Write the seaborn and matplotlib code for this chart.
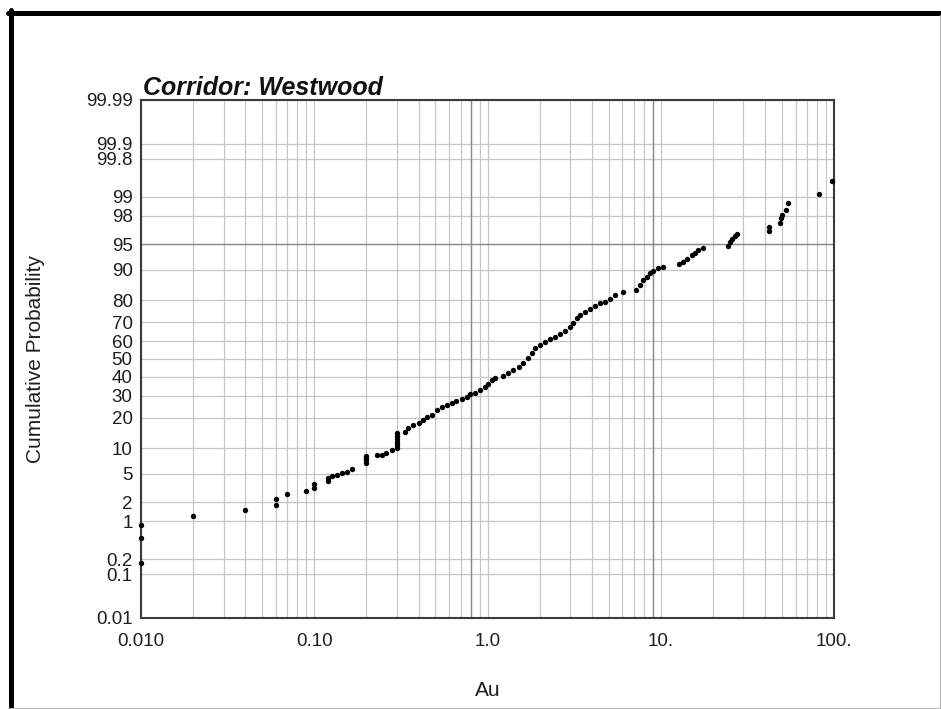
import math

import numpy as np
import pandas as pd
import matplotlib
matplotlib.use("Agg")
import matplotlib.pyplot as plt
import seaborn as sns
from matplotlib.lines import Line2D
from matplotlib.ticker import FixedLocator, NullLocator, LogLocator, NullFormatter

# Au assay values (ppm) and their cumulative probability (%)
au = [
    0.01, 0.01, 0.01, 0.02, 0.04, 0.06, 0.06, 0.07, 0.09, 0.10, 0.10,
    0.12, 0.12, 0.127, 0.135, 0.145, 0.155, 0.165,
    0.2, 0.2, 0.2, 0.2, 0.23, 0.245, 0.26, 0.28,
    0.3, 0.3, 0.3, 0.3, 0.3, 0.3,
    0.334, 0.349, 0.373, 0.40, 0.426, 0.446, 0.476, 0.51, 0.544, 0.58,
    0.62, 0.66, 0.71, 0.76, 0.79, 0.85, 0.90, 0.97, 1.01, 1.06, 1.10,
    1.23, 1.32, 1.41, 1.51, 1.61, 1.72, 1.80, 1.88, 2.01, 2.15, 2.30,
    2.45, 2.62, 2.80, 2.99, 3.13, 3.27, 3.42, 3.66, 3.91, 4.17, 4.46,
    4.77, 5.10, 5.44, 6.06, 7.20, 7.59, 7.93, 8.30, 8.67, 9.06, 9.68,
    10.3, 12.7, 13.5, 14.1, 15.1, 15.7, 16.5, 17.6,
    24.5, 25.1, 25.8, 26.8, 27.7, 42.3, 42.3, 49.0, 49.6, 50.1, 52.5,
    54.6, 81.9, 97.9,
]
cum_prob = [
    0.17, 0.51, 0.86, 1.19, 1.51, 1.83, 2.22, 2.61, 2.93, 3.25, 3.61,
    4.05, 4.33, 4.58, 4.79, 5.01, 5.31, 5.79,
    6.77, 7.25, 7.76, 8.18, 8.40, 8.51, 8.92, 9.45,
    10.06, 10.84, 11.67, 12.53, 13.44, 14.40,
    14.83, 15.98, 17.16, 17.79, 19.05, 20.12, 21.07, 23.20, 24.40, 25.45,
    26.52, 27.47, 28.14, 29.41, 30.76, 31.42, 32.81, 34.22, 35.98, 38.15, 39.52,
    40.36, 41.87, 43.72, 45.60, 47.54, 50.40, 53.26, 56.11, 57.97, 59.81, 61.14,
    62.56, 64.02, 65.78, 67.55, 69.59, 72.05, 73.62, 74.79, 76.14, 77.67, 78.81,
    79.47, 80.75, 82.10, 83.20, 83.91, 85.44, 87.02, 88.05, 89.16, 89.76, 90.36,
    90.75, 91.26, 91.88, 92.45, 93.23, 93.60, 94.12, 94.45,
    94.77, 95.42, 95.76, 96.13, 96.42, 96.73, 97.13, 97.50, 97.83, 98.07, 98.38,
    98.76, 99.11, 99.48,
]

y_ticks = [0.01, 0.1, 0.2, 1, 2, 5, 10, 20, 30, 40, 50, 60, 70, 80, 90,
           95, 98, 99, 99.8, 99.9, 99.99]
y_tick_labels = ["0.01", "0.1", "0.2", "1", "2", "5", "10", "20", "30", "40",
                 "50", "60", "70", "80", "90", "95", "98", "99", "99.8",
                 "99.9", "99.99"]
x_ticks = [0.01, 0.1, 1, 10, 100]
x_tick_labels = ["0.010", "0.10", "1.0", "10.", "100."]

# reference lines drawn a little darker than the grid
ref_x = [0.8, 9]
ref_y = [95]

# ---- probability (normal quantile) axis -------------------------------
_A = [-3.969683028665376e+01, 2.209460984245205e+02, -2.759285104469687e+02,
      1.383577518672690e+02, -3.066479806614716e+01, 2.506628277459239e+00]
_B = [-5.447609879822406e+01, 1.615858368580409e+02, -1.556989798598866e+02,
      6.680131188771972e+01, -1.328068155288572e+01]
_C = [-7.784894002430293e-03, -3.223964580411365e-01, -2.400758277161838e+00,
      -2.549671010258305e+00, 4.374664141464968e+00, 2.938163982698783e+00]
_D = [7.784695709041462e-03, 3.224671290700398e-01, 2.445134137142996e+00,
      3.754408661907416e+00]


def _norm_ppf(p):
    p = np.clip(np.asarray(p, dtype=float), 1e-12, 1 - 1e-12)
    plow = 0.02425
    with np.errstate(all="ignore"):
        q = p - 0.5
        r = q * q
        central = ((((((_A[0] * r + _A[1]) * r + _A[2]) * r + _A[3]) * r + _A[4]) * r + _A[5]) * q /
                   (((((_B[0] * r + _B[1]) * r + _B[2]) * r + _B[3]) * r + _B[4]) * r + 1))
        ql = np.sqrt(-2 * np.log(p))
        low = ((((((_C[0] * ql + _C[1]) * ql + _C[2]) * ql + _C[3]) * ql + _C[4]) * ql + _C[5]) /
               ((((_D[0] * ql + _D[1]) * ql + _D[2]) * ql + _D[3]) * ql + 1))
        qh = np.sqrt(-2 * np.log(1 - p))
        high = -((((((_C[0] * qh + _C[1]) * qh + _C[2]) * qh + _C[3]) * qh + _C[4]) * qh + _C[5]) /
                 ((((_D[0] * qh + _D[1]) * qh + _D[2]) * qh + _D[3]) * qh + 1))
    return np.where(p < plow, low, np.where(p > 1 - plow, high, central))


_erf = np.vectorize(math.erf)


def pct_to_z(pct):
    return _norm_ppf(np.asarray(pct, dtype=float) / 100.0)


def z_to_pct(z):
    z = np.asarray(z, dtype=float)
    return 50.0 * (1.0 + _erf(z / math.sqrt(2.0)))


# ---- figure -----------------------------------------------------------
sns.set_theme(style="white")
plt.rcParams["font.family"] = ["Liberation Sans", "DejaVu Sans"]

W, H = 941, 709
fig = plt.figure(figsize=(W / 100, H / 100), dpi=100)
fig.patch.set_facecolor("white")
ax = fig.add_axes([141 / W, 91 / H, 693 / W, 518 / H])

df = pd.DataFrame({"Au": au, "Cumulative Probability": cum_prob})
sns.scatterplot(data=df, x="Au", y="Cumulative Probability", ax=ax,
                color="black", marker="o", s=15, linewidth=0, zorder=4,
                clip_on=False, legend=False)

ax.set_xscale("log")
ax.set_xlim(0.01, 100)
ax.set_yscale("function", functions=(pct_to_z, z_to_pct))
ax.set_ylim(0.01, 99.99)

ax.xaxis.set_major_locator(FixedLocator(x_ticks))
ax.set_xticklabels(x_tick_labels)
ax.xaxis.set_minor_locator(LogLocator(base=10, subs=np.arange(2, 10)))
ax.xaxis.set_minor_formatter(NullFormatter())
ax.yaxis.set_major_locator(FixedLocator(y_ticks))
ax.set_yticklabels(y_tick_labels)
ax.yaxis.set_minor_locator(NullLocator())

grid_kw = dict(color="#c6c6c6", linewidth=0.9)
ax.grid(True, which="both", axis="x", **grid_kw)
ax.grid(True, which="major", axis="y", **grid_kw)
for xv in ref_x:
    ax.axvline(xv, color="#8c8c8c", linewidth=1.0, zorder=2)
for yv in ref_y:
    ax.axhline(yv, color="#8c8c8c", linewidth=1.0, zorder=2)

ax.tick_params(axis="both", which="both", length=0, colors="#1e1e1e",
               labelsize=13.5)
ax.tick_params(axis="x", pad=11)
ax.tick_params(axis="y", pad=6)

for sp in ax.spines.values():
    sp.set_color("#3a3a3a")
    sp.set_linewidth(1.5)
    sp.set_visible(True)

ax.set_xlabel("Au", fontsize=15, color="#1e1e1e")
ax.xaxis.set_label_coords(0.5, -0.122)
ax.set_ylabel("Cumulative Probability", fontsize=15, color="#1e1e1e")
ax.yaxis.set_label_coords(-0.138, 0.5)

ax.text(0.003, 1.0097, "Corridor: Westwood", transform=ax.transAxes,
        ha="left", va="baseline", fontsize=18, fontweight="bold",
        fontstyle="italic", color="#111111")

# page frame
fig.add_artist(Line2D([8 / W, 1.0], [1 - 12.5 / H, 1 - 12.5 / H],
                      transform=fig.transFigure, color="black", linewidth=3.6))
fig.add_artist(Line2D([10.5 / W, 10.5 / W], [1 - 10 / H, 0.0],
                      transform=fig.transFigure, color="black", linewidth=3.6))
fig.add_artist(Line2D([940 / W, 940 / W], [1 - 15 / H, 0.0],
                      transform=fig.transFigure, color="#b5b5b5", linewidth=0.8))
fig.add_artist(Line2D([8 / W, 1.0], [1.0 / H, 1.0 / H],
                      transform=fig.transFigure, color="#b5b5b5", linewidth=0.8))

fig.savefig("out.png", dpi=100)
